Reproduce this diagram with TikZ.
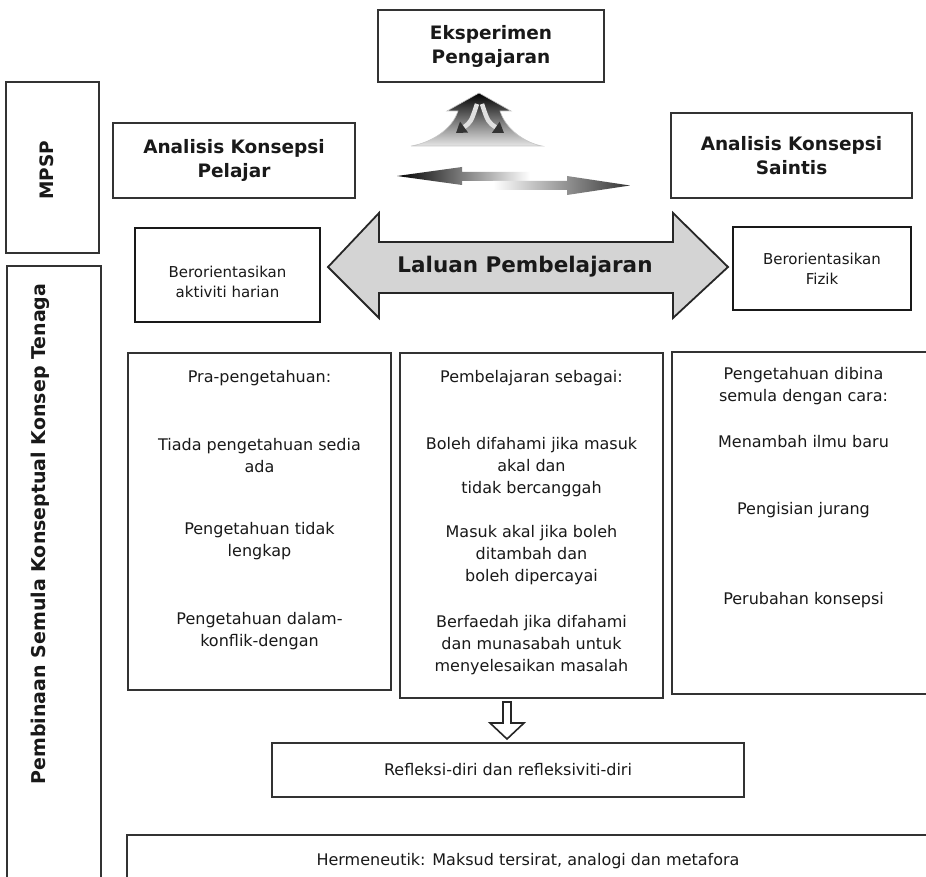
\documentclass[tikz,border=0pt]{standalone}
\usepackage{fontspec}
\setmainfont{DejaVu Sans}
\usetikzlibrary{arrows.meta}
\begin{document}
\begin{tikzpicture}[x=1pt,y=-1pt,
  frame/.style={draw=black!80, line width=1.1pt, inner sep=0pt},
  heavyframe/.style={frame, draw=black!90, line width=2pt},
  body/.style={font=\fontsize{16}{22}\selectfont, text=black!90, align=center, inner sep=0pt},
  smallbody/.style={font=\fontsize{15}{20}\selectfont, text=black!90, align=center, inner sep=0pt},
  heading/.style={font=\bfseries\fontsize{18.5}{24}\selectfont, text=black!90, align=center, inner sep=0pt},
  sidelabel/.style={font=\bfseries\fontsize{19}{24}\selectfont, text=black!90, rotate=90, inner sep=0pt},
  splitarrow/.style={line width=4.5pt, white!88!black, -{Triangle[length=10pt,width=13pt,color=black!80]}},
]
\clip (0,0) rectangle (926,877);
\fill[white] (0,0) rectangle (926,877);

% side panels
\node[frame, minimum width=93pt, minimum height=171pt] (mpspbox) at (52.5,167.5) {};
\node[sidelabel, font=\bfseries\fontsize{18.5}{24}\selectfont] (mpsp) at (47,170) {MPSP};
\node[frame, minimum width=94pt, minimum height=634pt] (sidebox) at (54,583) {};
\node[sidelabel] (sidetitle) at (40,534) {Pembinaan Semula Konseptual Konsep Tenaga};

% top row
\node[frame, heading, minimum width=226pt, minimum height=72pt] (eksp) at (491,46) {Eksperimen\\Pengajaran};
\node[frame, heading, minimum width=242pt, minimum height=75pt] (pelajar) at (234,160.5) {Analisis Konsepsi\\Pelajar};
\node[frame, heading, minimum width=241pt, minimum height=85pt] (saintis) at (791.5,155.5) {Analisis Konsepsi\\Saintis};

% fountain arrow under the experiment box
\shade[top color=black, bottom color=black!10, draw=black!22, line width=0.6pt]
  (479,93) -- (511,111) -- (500,111)
  .. controls (506,130) and (526,143) .. (542,146)
  -- (411,146)
  .. controls (430,143) and (452,130) .. (458,111)
  -- (447,111) -- cycle;
\draw[splitarrow] (477,104) .. controls (471,122) .. (456,133);
\draw[splitarrow] (482,104) .. controls (488,122) .. (504,133);

% two opposed gradient arrows
\shade[left color=black, right color=white]
  (397,176) -- (462,167) -- (462,172) -- (530,172) -- (530,181) -- (462,181) -- (462,185) -- cycle;
\shade[left color=white, right color=black!80]
  (493,181) -- (567,181) -- (567,176) -- (630,185.5) -- (567,195) -- (567,190) -- (493,190) -- cycle;

% orientation boxes and the learning route
\node[heavyframe, minimum width=185pt, minimum height=94pt] (harian) at (227.5,275) {};
\node[smallbody] (hariantext) at (227.5,282) {Berorientasikan\\aktiviti harian};
\node[heavyframe, smallbody, minimum width=178pt, minimum height=83pt] (fizik) at (822,268.5) {Berorientasikan\\Fizik};
\draw[fill=black!17, draw=black!85, line width=1.8pt, line join=miter]
  (328,267) -- (379,213) -- (379,242) -- (673,242) -- (673,213) -- (728,267)
  -- (673,318) -- (673,293) -- (379,293) -- (379,318) -- cycle;
\node[font=\bfseries\fontsize{21.5}{26}\selectfont, text=black!90, inner sep=0pt] (laluan) at (525,267) {Laluan Pembelajaran};

% three columns
\node[frame, minimum width=263pt, minimum height=337pt] (colA) at (259.5,521.5) {};
\node[frame, minimum width=263pt, minimum height=345pt] (colB) at (531.5,525.5) {};
\node[frame, minimum width=263pt, minimum height=342pt] (colC) at (803.5,523) {};

\node[body] (a0) at (259.5,378) {Pra-pengetahuan:};
\node[body] (a1) at (259.5,456) {Tiada pengetahuan sedia\\ada};
\node[body] (a2) at (259.5,541) {Pengetahuan tidak\\lengkap};
\node[body] (a3) at (259.5,631) {Pengetahuan dalam-\\konflik-dengan};

\node[body] (b0) at (531.5,378) {Pembelajaran sebagai:};
\node[body] (b1) at (531.5,467) {Boleh difahami jika masuk\\akal dan\\tidak bercanggah};
\node[body] (b2) at (531.5,555) {Masuk akal jika boleh\\ditambah dan\\boleh dipercayai};
\node[body] (b3) at (531.5,645) {Berfaedah jika difahami\\dan munasabah untuk\\menyelesaikan masalah};

\node[body] (c0) at (803.5,386) {Pengetahuan dibina\\semula dengan cara:};
\node[body] (c1) at (803.5,442) {Menambah ilmu baru};
\node[body] (c2) at (803.5,510) {Pengisian jurang};
\node[body] (c3) at (803.5,600) {Perubahan konsepsi};

% hollow arrow down to reflection
\draw[draw=black!85, fill=white, line width=1.6pt, line join=miter]
  (503,702) -- (511,702) -- (511,723) -- (524,723) -- (507,739) -- (490,723) -- (503,723) -- cycle;

\node[frame, body, minimum width=472pt, minimum height=54pt] (refleksi) at (508,770) {Refleksi-diri dan refleksiviti-diri};

\node[frame, line width=2.4pt, minimum width=803pt, minimum height=65pt] (hermbox) at (528.5,867.5) {};
\node[body] (herm) at (528,861) {Hermeneutik: Maksud tersirat, analogi dan metafora};
\end{tikzpicture}
\end{document}
